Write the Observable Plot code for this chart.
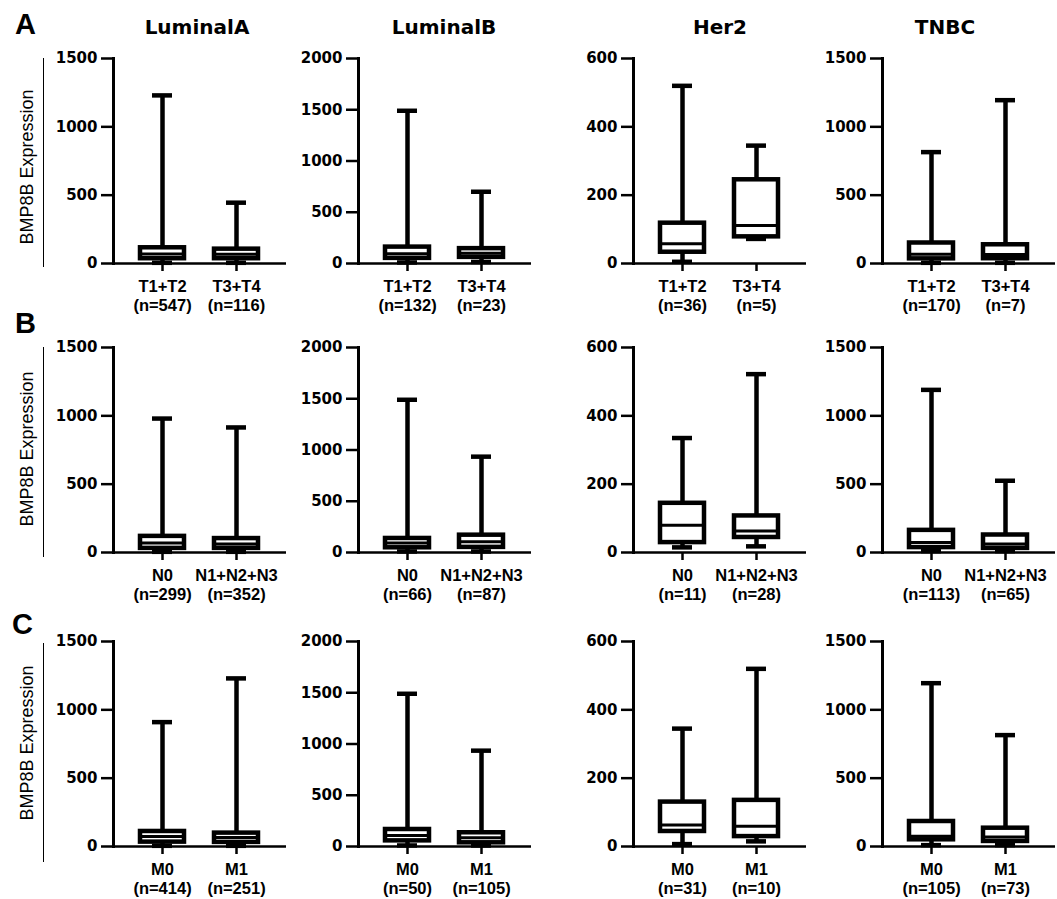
<!DOCTYPE html>
<html><head><meta charset="utf-8">
<script src="https://cdn.jsdelivr.net/npm/d3@7"></script>
<script src="https://cdn.jsdelivr.net/npm/@observablehq/plot@0.6"></script>
<style>
body{margin:0;background:#fff;}
#wrap{position:relative;width:1057px;height:899px;overflow:hidden;background:#fff;color:#000;}
.abs{position:absolute;line-height:1;white-space:nowrap;}
.letter{font:bold 29px "Liberation Sans",Arial,sans-serif;}
.title{font:bold 20px "DejaVu Sans",sans-serif;transform:translateX(-50%);}
.ylab{font:18px "Liberation Sans",Arial,sans-serif;transform:translate(-50%,-50%) rotate(-90deg);}
.yline{border-left:1.5px solid #000;width:0;}
</style></head><body><div id="wrap"></div>
<script>
// ---- data ----
const subtypes = ["LuminalA", "LuminalB", "Her2", "TNBC"];
const rowLetters = ["A", "B", "C"];
const yLabel = "BMP8B Expression";
const yMax = [1500, 2000, 600, 1500];
const yTicks = [[0, 500, 1000, 1500], [0, 500, 1000, 1500, 2000], [0, 200, 400, 600], [0, 500, 1000, 1500]];
const groupLabels = [["T1+T2", "T3+T4"], ["N0", "N1+N2+N3"], ["M0", "M1"]];
// [row][subtype][group]
const nCounts = [
  [[547, 116], [132, 23], [36, 5], [170, 7]],
  [[299, 352], [66, 87], [11, 28], [113, 65]],
  [[414, 251], [50, 105], [31, 10], [105, 73]]
];
const mins = [
  [[5, 5], [10, 15], [5, 72], [5, 5]],
  [[5, 5], [10, 10], [15, 18], [10, 10]],
  [[5, 5], [10, 10], [7, 15], [10, 10]]
];
const q1s = [
  [[35, 35], [50, 60], [33, 78], [34, 35]],
  [[30, 30], [46, 50], [29, 44], [36, 30]],
  [[32, 30], [55, 36], [44, 29], [49, 37]]
];
const medians = [
  [[70, 68], [95, 100], [58, 111], [68, 66]],
  [[70, 62], [92, 105], [80, 63], [73, 62]],
  [[73, 66], [108, 85], [63, 59], [75, 70]]
];
const q3s = [
  [[115, 105], [160, 145], [118, 245], [150, 137]],
  [[118, 102], [137, 169], [144, 107], [162, 128]],
  [[110, 98], [166, 134], [130, 135], [183, 134]]
];
const maxs = [
  [[1230, 445], [1490, 700], [520, 345], [815, 1195]],
  [[980, 915], [1490, 935], [335, 522], [1190, 525]],
  [[910, 1230], [1490, 935], [345, 520], [1195, 815]]
];

// ---- layout ----
const axisX = [113, 358, 633, 882];
const rowZero = [263, 552, 846];
const PH = 205, ML = 60, MR = 4, MT = 10, MB = 52, PW = 173;
const wrap = document.getElementById("wrap");

function add(cls, text, css) {
  const d = document.createElement("div");
  d.className = "abs " + cls;
  d.textContent = text;
  Object.assign(d.style, css);
  wrap.appendChild(d);
  return d;
}

function panel(r, s) {
  const cats = groupLabels[r].map((g, k) => `${g}\n(n=${nCounts[r][s][k]})`);
  const data = cats.map((c, k) => ({
    cat: c, min: mins[r][s][k], q1: q1s[r][s][k], med: medians[r][s][k], q3: q3s[r][s][k], max: maxs[r][s][k]
  }));
  const sw = 4.5;
  return Plot.plot({
    width: ML + PW + MR, height: MT + PH + MB,
    marginLeft: ML, marginRight: MR, marginTop: MT, marginBottom: MB,
    x: {type: "band", domain: cats, paddingInner: 0.405, paddingOuter: 0.37, axis: null},
    y: {domain: [0, yMax[s]], axis: null},
    style: {background: "transparent", color: "#000", overflow: "visible", fontFamily: "Liberation Sans, Arial, sans-serif"},
    marks: [
      Plot.ruleX(data, {x: "cat", y1: "q3", y2: "max", strokeWidth: sw}),
      Plot.ruleX(data, {x: "cat", y1: "min", y2: "q1", strokeWidth: sw}),
      Plot.tickY(data, {x: "cat", y: "max", strokeWidth: sw, insetLeft: 12, insetRight: 12}),
      Plot.tickY(data, {x: "cat", y: "min", strokeWidth: sw, insetLeft: 12, insetRight: 12}),
      Plot.barY(data, {x: "cat", y1: "q1", y2: "q3", fill: "white", stroke: "black", strokeWidth: sw}),
      Plot.tickY(data, {x: "cat", y: "med", strokeWidth: 3}),
      Plot.ruleY([0], {strokeWidth: 2.5}),
      Plot.frame({anchor: "left", strokeWidth: 3}),
      Plot.axisY({ticks: yTicks[s], tickSize: 12, tickPadding: 4, tickFormat: d => String(d),
        fontSize: 15, fontWeight: "bold", fontFamily: "DejaVu Sans, sans-serif", strokeWidth: 2.5, label: null}),
      Plot.axisX({tickSize: 8, tickPadding: 7, fontSize: 16.5, fontWeight: "bold",
        fontFamily: "Liberation Sans, Arial, sans-serif", lineHeight: 1.15, strokeWidth: 2.5, label: null})
    ]
  });
}

for (let r = 0; r < 3; r++) {
  for (let s = 0; s < 4; s++) {
    const svg = panel(r, s);
    svg.style.position = "absolute";
    svg.style.left = (axisX[s] - ML) + "px";
    svg.style.top = (rowZero[r] - PH - MT) + "px";
    wrap.appendChild(svg);
  }
}

// titles
const titleX = [197, 444, 720, 945];
subtypes.forEach((t, s) => add("title", t, {left: titleX[s] + "px", top: "15px"}));
// row letters
const letterPos = [[15, 8], [15, 307], [12, 608]];
rowLetters.forEach((l, r) => add("letter", l, {left: letterPos[r][0] + "px", top: letterPos[r][1] + "px"}));
// y labels and lines
const ylabY = [167, 449, 743];
const yLine = [[58, 267], [347, 557], [643, 862]];
for (let r = 0; r < 3; r++) {
  add("ylab", yLabel, {left: "27px", top: ylabY[r] + "px"});
  add("yline", "", {left: "43px", top: yLine[r][0] + "px", height: (yLine[r][1] - yLine[r][0]) + "px"});
}
</script></body></html>
